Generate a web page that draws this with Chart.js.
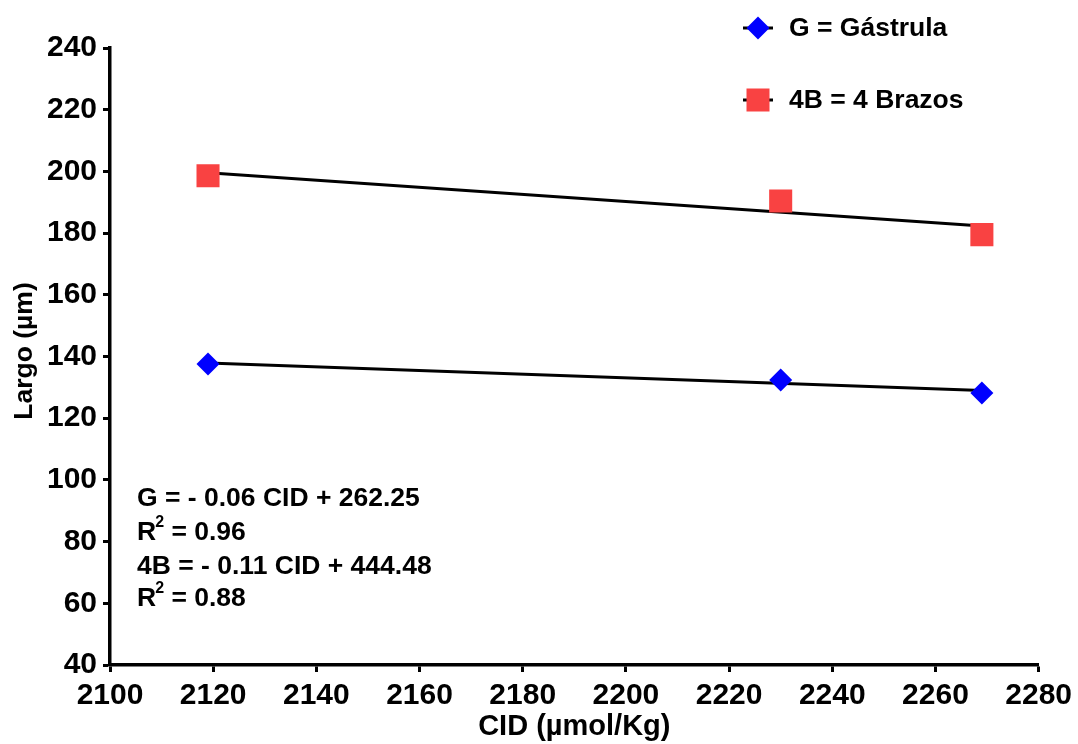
<!DOCTYPE html>
<html>
<head>
<meta charset="utf-8">
<script src="https://cdn.jsdelivr.net/npm/chart.js@4/dist/chart.umd.min.js"></script>
<style>
  html, body { margin: 0; padding: 0; background: #fff; }
  #wrap { width: 1078px; height: 744px; }
</style>
</head>
<body>
<div id="wrap"><canvas id="c" width="1078" height="744"></canvas></div>
<script>
// CID (µmol/Kg) at each sampling point
const cid = [2119, 2230, 2269];
// Larval length (µm) per stage
const gastrula = [137.6, 132.4, 128.2];
const brazos = [198.6, 190.4, 179.5];
// Regression line end points
const fitX = [2119, 2269];
const fitG = [137.9, 129.0];
const fit4B = [199.6, 182.3];
// Axis ranges and ticks
const xTicks = [2100, 2120, 2140, 2160, 2180, 2200, 2220, 2240, 2260, 2280];
const yTicks = [40, 60, 80, 100, 120, 140, 160, 180, 200, 220, 240];
// Titles, legend and equation texts
const xTitle = 'CID (µmol/Kg)';
const yTitle = 'Largo (µm)';
const seriesNames = ['G = Gástrula', '4B = 4 Brazos'];
const equationLines = [
  ['G = - 0.06 CID + 262.25'],
  ['R', '2', ' = 0.96'],
  ['4B = - 0.11 CID + 444.48'],
  ['R', '2', ' = 0.88']
];

const FONT = '"Liberation Sans", Arial, Helvetica, sans-serif';
const RED = '#F94242';
const BLUE = '#0000FF';

const toXY = (xs, ys) => xs.map((x, i) => ({ x: x, y: ys[i] }));

function drawDiamond(ctx, x, y, r) {
  ctx.beginPath();
  ctx.moveTo(x - r, y); ctx.lineTo(x, y - r); ctx.lineTo(x + r, y); ctx.lineTo(x, y + r);
  ctx.closePath(); ctx.fill();
}

// Legend in the top right: short line through each marker, then the label
const legendPlugin = {
  id: 'stageLegend',
  afterDraw(chart) {
    const ctx = chart.ctx;
    ctx.save();
    const items = [
      { y: 28, draw: (x, y) => { ctx.fillStyle = BLUE; drawDiamond(ctx, x, y, 11.5); } },
      { y: 100, draw: (x, y) => { ctx.fillStyle = RED; ctx.fillRect(x - 11.5, y - 11.5, 23, 23); } }
    ];
    items.forEach((it, i) => {
      ctx.strokeStyle = '#000'; ctx.lineWidth = 3;
      ctx.beginPath(); ctx.moveTo(743, it.y); ctx.lineTo(773, it.y); ctx.stroke();
      it.draw(758, it.y);
      ctx.fillStyle = '#000';
      ctx.font = 'bold 26.5px ' + FONT;
      ctx.textBaseline = 'middle'; ctx.textAlign = 'left';
      ctx.fillText(seriesNames[i], 789, it.y + 1);
    });
    ctx.restore();
  }
};

// Regression equations in the lower left, with superscript exponents
const equationPlugin = {
  id: 'equations',
  afterDraw(chart) {
    const ctx = chart.ctx;
    ctx.save();
    ctx.fillStyle = '#000';
    ctx.textAlign = 'left'; ctx.textBaseline = 'middle';
    const ys = [499, 533, 567, 599];
    equationLines.forEach((parts, i) => {
      let x = 137;
      ctx.font = 'bold 26.5px ' + FONT;
      ctx.fillText(parts[0], x, ys[i]);
      if (parts.length === 3) {
        x += ctx.measureText(parts[0]).width - 1;
        ctx.font = 'bold 16px ' + FONT;
        ctx.fillText(parts[1], x, ys[i] - 10);
        x += ctx.measureText(parts[1]).width;
        ctx.font = 'bold 26.5px ' + FONT;
        ctx.fillText(parts[2], x, ys[i]);
      }
    });
    ctx.restore();
  }
};

// Rotated y axis title beside the tick labels
const yTitlePlugin = {
  id: 'yTitle',
  afterDraw(chart) {
    const ctx = chart.ctx;
    ctx.save();
    ctx.translate(32, 351);
    ctx.rotate(-Math.PI / 2);
    ctx.fillStyle = '#000';
    ctx.font = 'bold 26.5px ' + FONT;
    ctx.textAlign = 'center'; ctx.textBaseline = 'alphabetic';
    ctx.fillText(yTitle, 0, 0);
    ctx.restore();
  }
};

new Chart(document.getElementById('c'), {
  type: 'scatter',
  data: {
    datasets: [
      {
        label: seriesNames[0], data: toXY(cid, gastrula), showLine: false,
        pointStyle: 'rectRot', pointRadius: 11.5, pointHoverRadius: 11.5,
        backgroundColor: BLUE, borderColor: BLUE, borderWidth: 0
      },
      {
        label: seriesNames[1], data: toXY(cid, brazos), showLine: false,
        pointStyle: 'rect', pointRadius: 16.3, pointHoverRadius: 16.3,
        backgroundColor: RED, borderColor: RED, borderWidth: 0
      },
      {
        label: 'fitG', data: toXY(fitX, fitG), showLine: true, pointRadius: 0,
        borderColor: '#000', borderWidth: 3, fill: false
      },
      {
        label: 'fit4B', data: toXY(fitX, fit4B), showLine: true, pointRadius: 0,
        borderColor: '#000', borderWidth: 3, fill: false
      }
    ]
  },
  options: {
    responsive: false,
    devicePixelRatio: 1,
    animation: false,
    events: [],
    layout: { padding: { top: 48, right: 37, left: 0, bottom: 0 } },
    plugins: { legend: { display: false }, tooltip: { enabled: false } },
    scales: {
      x: {
        type: 'linear', min: xTicks[0], max: xTicks[xTicks.length - 1],
        afterBuildTicks: (s) => { s.ticks = xTicks.map(v => ({ value: v })); },
        afterFit: (s) => { s.height = 79; },
        ticks: { color: '#000', font: { family: FONT, size: 30, weight: 'bold' }, padding: 6,
                 maxRotation: 0, autoSkip: false, callback: (v) => String(v) },
        grid: { drawOnChartArea: false, drawTicks: true, tickLength: 7, tickWidth: 3, tickColor: '#000' },
        border: { display: true, color: '#000', width: 3.5 },
        title: { display: true, text: xTitle, color: '#000',
                 font: { family: FONT, size: 29, weight: 'bold' }, padding: 0 }
      },
      y: {
        type: 'linear', min: yTicks[0], max: yTicks[yTicks.length - 1],
        afterBuildTicks: (s) => { s.ticks = yTicks.map(v => ({ value: v })); },
        afterFit: (s) => { s.width = 110; },
        ticks: { color: '#000', font: { family: FONT, size: 30, weight: 'bold' }, padding: 6,
                 autoSkip: false, callback: (v) => String(v) },
        grid: { drawOnChartArea: false, drawTicks: true, tickLength: 7, tickWidth: 3, tickColor: '#000' },
        border: { display: true, color: '#000', width: 3.5 },
        title: { display: false }
      }
    }
  },
  plugins: [legendPlugin, equationPlugin, yTitlePlugin]
});
</script>
</body>
</html>
